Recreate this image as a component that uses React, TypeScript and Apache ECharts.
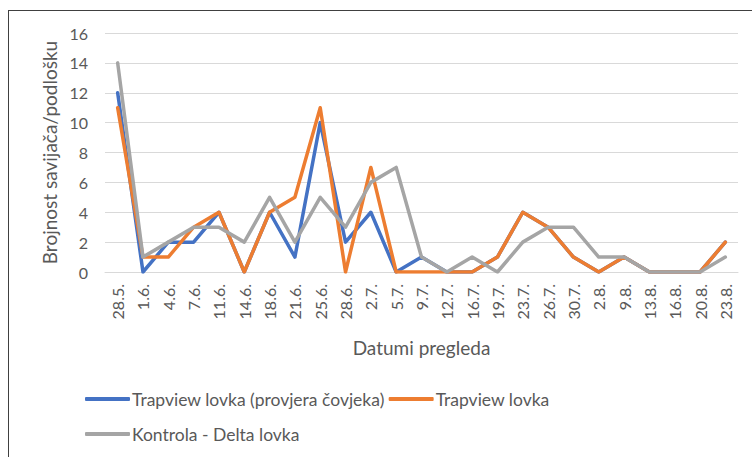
import React, { useEffect, useRef } from "react";
import * as echarts from "echarts";

const categories = [
  "28.5.", "1.6.", "4.6.", "7.6.", "11.6.", "14.6.", "18.6.", "21.6.", "25.6.", "28.6.",
  "2.7.", "5.7.", "9.7.", "12.7.", "16.7.", "19.7.", "23.7.", "26.7.", "30.7.", "2.8.",
  "9.8.", "13.8.", "16.8.", "20.8.", "23.8.",
];

const trapviewHuman = [12, 0, 2, 2, 4, 0, 4, 1, 10, 2, 4, 0, 1, 0, 0, 1, 4, 3, 1, 0, 1, 0, 0, 0, 2];
const trapview = [11, 1, 1, 3, 4, 0, 4, 5, 11, 0, 7, 0, 0, 0, 0, 1, 4, 3, 1, 0, 1, 0, 0, 0, 2];
const delta = [14, 1, 2, 3, 3, 2, 5, 2, 5, 3, 6, 7, 1, 0, 1, 0, 2, 3, 3, 1, 1, 0, 0, 0, 1];

const seriesNames = [
  "Trapview lovka (provjera čovjeka)",
  "Trapview lovka",
  "Kontrola - Delta lovka",
];
const colors = ["#4472C4", "#ED7D31", "#A5A5A5"];

const FONT = "Lato";
const TXT = "#595959";

export default function App() {
  const ref = useRef<HTMLDivElement>(null);
  useEffect(() => {
    document.body.style.margin = "0";
    if (!ref.current) return;
    const chart = echarts.init(ref.current, undefined, { renderer: "svg" });
    const mk = (name: string, data: number[], color: string) => ({
      name,
      type: "line",
      data,
      symbol: "none",
      lineStyle: { color, width: 3.5, join: "round", cap: "round" },
      itemStyle: { color },
    });
    const legendText = { color: TXT, fontSize: 17.5, fontFamily: FONT, padding: [0, 0, 0, -3] };
    chart.setOption({
      animation: false,
      backgroundColor: "#ffffff",
      textStyle: { fontFamily: FONT },
      grid: { left: 105, right: 14, top: 33, bottom: 185, containLabel: false },
      legend: [
        {
          data: [seriesNames[0], seriesNames[1]],
          left: 80,
          top: 385,
          itemWidth: 45,
          itemHeight: 4,
          itemGap: 4,
          icon: "roundRect",
          textStyle: legendText,
        },
        {
          data: [seriesNames[2]],
          left: 80,
          top: 420,
          itemWidth: 45,
          itemHeight: 4,
          icon: "roundRect",
          textStyle: legendText,
        },
      ],
      xAxis: {
        type: "category",
        data: categories,
        boundaryGap: true,
        name: "Datumi pregleda",
        nameLocation: "middle",
        nameGap: 66,
        nameTextStyle: { color: TXT, fontSize: 19, fontFamily: FONT },
        axisLine: { lineStyle: { color: "#D9D9D9", width: 1 } },
        axisTick: { show: false },
        axisLabel: { rotate: 90, interval: 0, color: TXT, fontSize: 16, margin: 12, fontFamily: FONT },
      },
      yAxis: {
        type: "value",
        min: 0,
        max: 16,
        interval: 2,
        name: "Brojnost savijača/podlošku",
        nameLocation: "middle",
        nameGap: 46,
        nameTextStyle: { color: TXT, fontSize: 19, fontFamily: FONT },
        axisLine: { show: false },
        axisTick: { show: false },
        axisLabel: { color: TXT, fontSize: 16, margin: 17, fontFamily: FONT },
        splitLine: { lineStyle: { color: "#D9D9D9", width: 1 } },
      },
      graphic: [
        { type: "line", shape: { x1: 8, y1: 10.5, x2: 752, y2: 10.5 }, style: { stroke: "#404040", lineWidth: 1 } },
        { type: "line", shape: { x1: 8.5, y1: 10, x2: 8.5, y2: 457 }, style: { stroke: "#404040", lineWidth: 1 } },
      ],
      series: [
        mk(seriesNames[0], trapviewHuman, colors[0]),
        mk(seriesNames[1], trapview, colors[1]),
        mk(seriesNames[2], delta, colors[2]),
      ],
    });
    return () => chart.dispose();
  }, []);
  return <div ref={ref} style={{ width: 752, height: 457 }} />;
}
